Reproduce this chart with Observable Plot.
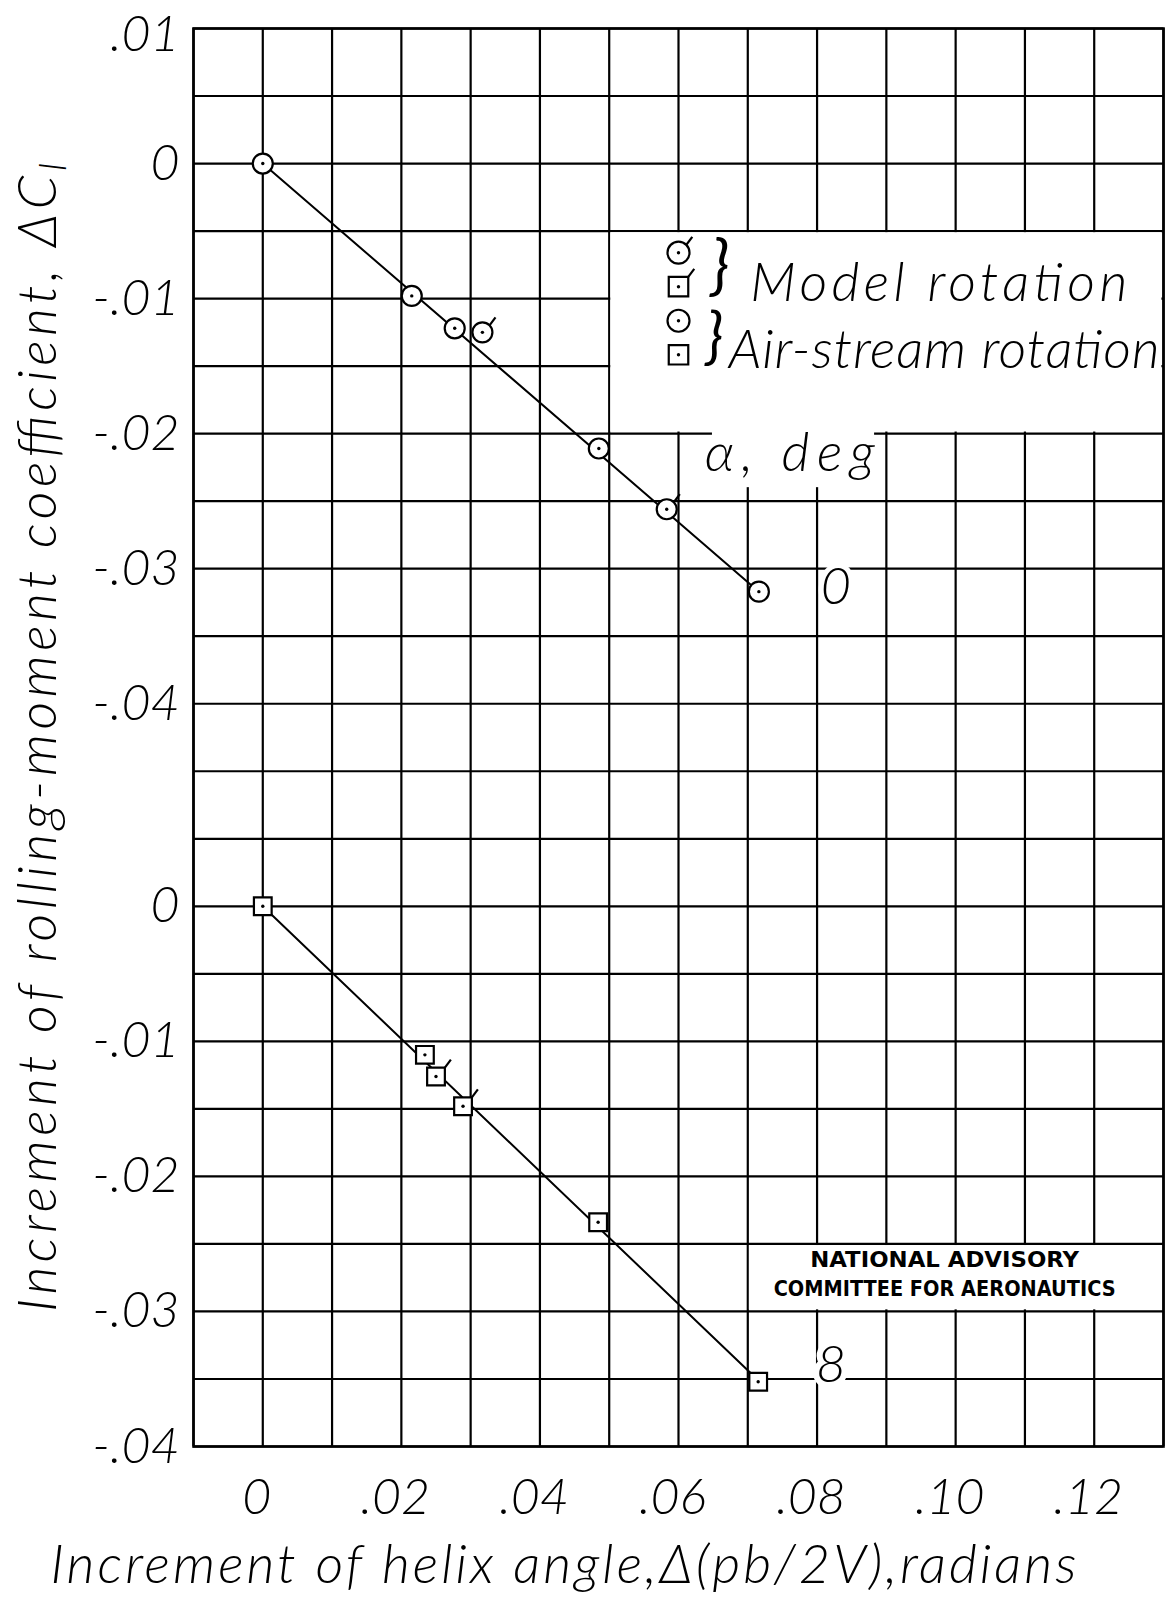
<!DOCTYPE html>
<html>
<head>
<meta charset="utf-8">
<script src="https://cdn.jsdelivr.net/npm/d3@7"></script>
<script src="https://cdn.jsdelivr.net/npm/@observablehq/plot@0.6"></script>
<style>
html, body { margin: 0; padding: 0; background: #fff; }
#chart svg { display: block; }
</style>
</head>
<body>
<div id="chart"></div>
<script>
// ---------------- data ----------------
// alpha = 0 deg (upper set, circles)
const upperX = [0, 0.0215, 0.0277, 0.0317, 0.0485, 0.0583, 0.0716];
const upperY = [0, -0.0098, -0.0122, -0.0125, -0.0211, -0.0256, -0.0317];
const upperRotation = ["air", "air", "air", "model", "air", "model", "air"];
// alpha = 8 deg (lower set, squares)
const lowerX = [0, 0.0234, 0.0250, 0.0289, 0.0484, 0.0715];
const lowerY = [0, -0.0110, -0.0126, -0.0148, -0.0234, -0.0352];
const lowerRotation = ["air", "air", "model", "model", "air", "air"];
// faired lines
const upperFairX = [0, 0.0716];
const upperFairY = [0, -0.0317];
const lowerFairX = [0, 0.0715];
const lowerFairY = [0, -0.0351];
const alphaLabels = ["0", "8"];
// axes
const xTicks = [0, 0.02, 0.04, 0.06, 0.08, 0.10, 0.12];
const xTickLabels = ["0", ".02", ".04", ".06", ".08", ".10", ".12"];
const upperYTicks = [0.01, 0, -0.01, -0.02, -0.03, -0.04];
const upperYTickLabels = [".01", "0", "-.01", "-.02", "-.03", "-.04"];
const lowerYTicks = [0, -0.01, -0.02, -0.03, -0.04];
const lowerYTickLabels = ["0", "-.01", "-.02", "-.03", "-.04"];
// legend
const legendSymbols = ["circle", "square", "circle", "square"];
const legendRotation = ["model", "model", "air", "air"];
const legendLabels = ["Model rotation", "Air-stream rotation"];
const xTitle = "Increment of helix angle,\u0394(pb/2V),radians";
const yTitle = "Increment of rolling-moment coefficient, \u0394C";
const yTitleSub = "l";
const alphaTitle = "\u03b1, deg";
const nacaLines = ["NATIONAL ADVISORY", "COMMITTEE FOR AERONAUTICS"];

// ---------------- layout ----------------
const SHIFT = -0.055;              // vertical offset of the lower (alpha = 8) set on the shared grid
const FONT = "Lato, 'Open Sans', 'DejaVu Sans', sans-serif";
const hand = {fontFamily: FONT, fontStyle: "italic", fontWeight: 300, fill: "black"};

const upper = upperX.map((x, i) => ({x, y: upperY[i], rot: upperRotation[i]}));
const lower = lowerX.map((x, i) => ({x, y: lowerY[i] + SHIFT, rot: lowerRotation[i]}));
const upperFair = upperFairX.map((x, i) => [x, upperFairY[i]]);
const lowerFair = lowerFairX.map((x, i) => [x, lowerFairY[i] + SHIFT]);

const xGrid = d3.range(-1, 14).map(i => i / 100);
const yGrid = d3.range(0, 22).map(i => 0.01 - i * 0.005);

const LEG = {x: 0.06, top: -0.0066, step: -0.00252};
const legendRows = legendSymbols.map((s, i) => ({x: LEG.x, y: LEG.top + i * LEG.step, symbol: s, rot: legendRotation[i]}));

const legendBox = {x1: 0.05, x2: 0.13, y1: -0.005, y2: -0.02};
const nacaBox = {x1: 0.07, x2: 0.13, y1: -0.025 + SHIFT, y2: -0.03 + SHIFT};
const alphaBox = {x1: 0.0649, x2: 0.0883, y1: -0.0197, y2: -0.0240};

const flagCircle = {draw(ctx, size) { const r = Math.sqrt(size / Math.PI); const a = r * Math.SQRT1_2; ctx.moveTo(a, -a); ctx.lineTo(a + 6, -a - 8); }};
const flagSquare = {draw(ctx, size) { const h = Math.sqrt(size) / 2; ctx.moveTo(h, -h); ctx.lineTo(h + 6, -h - 8); }};

const markerStyle = {fill: "white", stroke: "black", strokeWidth: 2.2, r: 10};
const flagStyle = {fill: "none", stroke: "black", strokeWidth: 2.2, r: 10};
const legMarker = {...markerStyle, r: 11};
const legFlag = {...flagStyle, r: 11};
const yTickStyle = {frameAnchor: "left", textAnchor: "end", lineAnchor: "middle", dx: -14, fontSize: 50, ...hand};

const plot = Plot.plot({
  width: 1166,
  height: 1605,
  marginLeft: 193, marginRight: 3, marginTop: 28, marginBottom: 159,
  x: {domain: [-0.01, 0.13], axis: null},
  y: {domain: [-0.095, 0.01], axis: null},
  style: {background: "white", color: "black", fontFamily: FONT},
  marks: [
    Plot.ruleX(xGrid, {x: d => d, stroke: "black", strokeWidth: 2.2}),
    Plot.ruleY(yGrid, {y: d => d, stroke: "black", strokeWidth: 2.2}),
    Plot.rect([legendBox, nacaBox], {x1: "x1", x2: "x2", y1: "y1", y2: "y2", fill: "white", inset: 1.6}),
    Plot.rect([alphaBox], {x1: "x1", x2: "x2", y1: "y1", y2: "y2", fill: "white"}),
    Plot.frame({stroke: "black", strokeWidth: 2.6}),
    // faired lines
    Plot.line(upperFair, {stroke: "black", strokeWidth: 2}),
    Plot.line(lowerFair, {stroke: "black", strokeWidth: 2}),
    // markers
    Plot.dot(upper, {x: "x", y: "y", symbol: "circle", ...markerStyle}),
    Plot.dot(lower, {x: "x", y: "y", symbol: "square", ...markerStyle}),
    Plot.dot(upper.filter(d => d.rot === "model"), {x: "x", y: "y", symbol: flagCircle, ...flagStyle}),
    Plot.dot(lower.filter(d => d.rot === "model"), {x: "x", y: "y", symbol: flagSquare, ...flagStyle}),
    Plot.dot(upper.concat(lower), {x: "x", y: "y", r: 1.7, fill: "black"}),
    // legend
    Plot.dot(legendRows.filter(d => d.symbol === "circle"), {x: "x", y: "y", symbol: "circle", ...legMarker}),
    Plot.dot(legendRows.filter(d => d.symbol === "square"), {x: "x", y: "y", symbol: "square", ...legMarker}),
    Plot.dot(legendRows.filter(d => d.symbol === "circle" && d.rot === "model"), {x: "x", y: "y", symbol: flagCircle, ...legFlag}),
    Plot.dot(legendRows.filter(d => d.symbol === "square" && d.rot === "model"), {x: "x", y: "y", symbol: flagSquare, ...legFlag}),
    Plot.dot(legendRows, {x: "x", y: "y", r: 1.7, fill: "black"}),
    Plot.text(["}"], {x: 0.0660, y: -0.00767, text: d => d, fontSize: 66, ...hand, fontWeight: 400}),
    Plot.text(["}"], {x: 0.0652, y: -0.01286, text: d => d, fontSize: 62, ...hand, fontWeight: 400}),
    Plot.text([legendLabels[0]], {x: 0.07036, y: -0.00889, text: d => d, textAnchor: "start", fontSize: 54, ...hand}),
    Plot.text([legendLabels[1]], {x: 0.06724, y: -0.01385, text: d => d, textAnchor: "start", fontSize: 54, ...hand}),
    // alpha labels
    Plot.text([alphaTitle], {x: 0.06378, y: -0.02148, text: d => d, textAnchor: "start", fontSize: 54, ...hand}),
    Plot.text([alphaLabels[0]], {x: upperX[upperX.length - 1], y: upperY[upperY.length - 1], text: d => d, dx: 77, dy: -4, fontSize: 52, ...hand, stroke: "white", strokeWidth: 10}),
    Plot.text([alphaLabels[1]], {x: lowerX[lowerX.length - 1], y: lowerY[lowerY.length - 1] + SHIFT, text: d => d, dx: 73, dy: -16, fontSize: 52, ...hand, stroke: "white", strokeWidth: 12}),
    // NACA
    Plot.text([nacaLines[0]], {x: 0.1, y: -0.0275 + SHIFT, text: d => d, dx: -11, dy: -17, fontSize: 21, fontWeight: "bold", fontFamily: "'DejaVu Sans', sans-serif", fill: "black"}),
    Plot.text([nacaLines[1]], {x: 0.1, y: -0.0275 + SHIFT, text: d => d, dx: -11, dy: 12, fontSize: 21, fontWeight: "bold", fontFamily: "'DejaVu Sans', sans-serif", fill: "black"}),
    // tick labels
    Plot.text(upperYTicks.slice(0, 1), {y: d => d, text: (d, i) => upperYTickLabels[i], ...yTickStyle, dy: 6}),
    Plot.text(upperYTicks.slice(1), {y: d => d, text: (d, i) => upperYTickLabels[i + 1], ...yTickStyle}),
    Plot.text(lowerYTicks, {y: d => d + SHIFT, text: (d, i) => lowerYTickLabels[i], ...yTickStyle}),
    Plot.text(xTicks, {x: d => d, text: (d, i) => xTickLabels[i], frameAnchor: "bottom", textAnchor: "middle", lineAnchor: "middle", dy: 51, dx: -6, fontSize: 50, ...hand}),
    // axis titles
    Plot.text([xTitle], {frameAnchor: "bottom-left", text: d => d, textAnchor: "start", lineAnchor: "middle", dx: -143, dy: 119, fontSize: 54, ...hand}),
    Plot.text([yTitle], {frameAnchor: "left", text: d => d, rotate: -90, textAnchor: "middle", lineAnchor: "middle", dx: -155, dy: 0, fontSize: 54, ...hand})
  ]
});

// fit the hand-lettered texts to the lengths they have in the figure
const fits = new Map([
  [legendLabels[0], [377, "spacing"]],
  [legendLabels[1], [431, "spacing"]],
  [alphaTitle, [170, "spacing"]],
  [xTitle, [1026, "spacing"]],
  [yTitle, [1149, "spacing"]],
  [nacaLines[0], [269, "spacingAndGlyphs"]],
  [nacaLines[1], [342, "spacingAndGlyphs"]]
]);
d3.select(plot).selectAll("text").each(function () {
  const t = this.textContent;
  if (t === yTitle) {
    d3.select(this).append("tspan").attr("dy", 10).attr("font-size", 38).text(yTitleSub);
  }
  if (fits.has(t)) {
    const [len, adj] = fits.get(t);
    this.setAttribute("textLength", len);
    this.setAttribute("lengthAdjust", adj);
  }
});

document.getElementById("chart").appendChild(plot);
</script>
</body>
</html>
